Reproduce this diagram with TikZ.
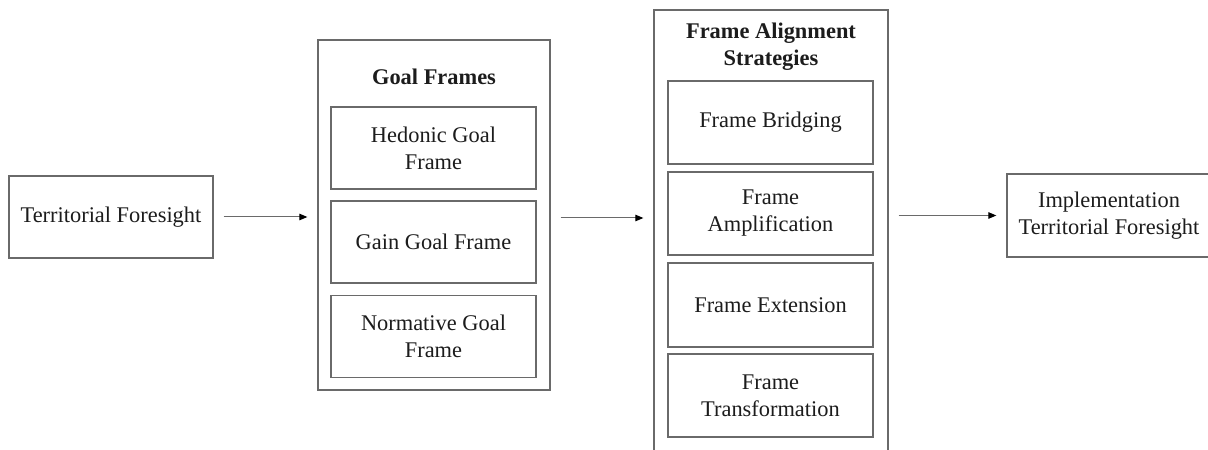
\documentclass[tikz,border=0pt]{standalone}
\usepackage{fontspec}
\setmainfont{Liberation Serif}
\usetikzlibrary{arrows.meta}
\definecolor{edge}{HTML}{6A6A6A}
\definecolor{ink}{HTML}{1C1C1C}
\tikzset{
  box/.style={draw=edge, line width=1.3bp, text=ink, align=center, inner sep=0pt,
    font=\fontsize{22.4bp}{27bp}\selectfont},
  inbox/.style={box, minimum width=205bp, minimum height=82bp},
  outbox/.style={draw=edge, line width=1.3bp, inner sep=0pt},
  title/.style={text=ink, align=center, inner sep=0pt,
    font=\fontsize{22.4bp}{27bp}\selectfont\bfseries},
  flow/.style={draw=edge, line width=1bp, -{Triangle[length=8bp,width=6.5bp,fill=black,color=black]},
    shorten <=10bp, shorten >=10bp}
}
\begin{document}
\begin{tikzpicture}[x=1bp,y=-1bp]
\useasboundingbox (0,0) rectangle (1208,450);
\clip (0,0) rectangle (1208,450);
\fill[white] (0,0) rectangle (1208,450);
% left input
\node[box, minimum width=204bp, minimum height=82bp] (tf) at (111,217) {Territorial Foresight};
% goal frames
\node[outbox, minimum width=232bp, minimum height=350bp] (gf) at (434,215) {};
\node[title] (gft) at (434,77) {Goal Frames};
\node[inbox] (hed) at (433.5,148) {Hedonic Goal\\Frame};
\node[inbox] (gain) at (433.5,242) {Gain Goal Frame};
\node[inbox] (norm) at (433.5,336.5) {Normative Goal\\Frame};
% frame alignment strategies
\node[outbox, minimum width=234bp, minimum height=470bp] (fas) at (771,245) {};
\node[title] (fast) at (771,46.5) {Frame Alignment\\Strategies};
\node[inbox, minimum height=83bp] (brid) at (770.5,122.5) {Frame Bridging};
\node[inbox, minimum height=83bp] (ampl) at (770.5,213.5) {Frame\\Amplification};
\node[inbox, minimum height=84bp] (ext) at (770.5,305) {Frame Extension};
\node[inbox, minimum height=83bp] (trans) at (770.5,395.5) {Frame\\Transformation};
% output
\node[box, minimum width=204bp, minimum height=83bp] (impl) at (1109,215.5) {Implementation\\Territorial Foresight};
% connectors
\draw[flow] (tf.east) -- (tf.east -| gf.west);
\draw[flow] ([yshift=-3bp]gf.east) -- ([yshift=-3bp]gf.east -| fas.west);
\draw[flow] (fas.east |- impl.west) -- (impl.west);
\end{tikzpicture}
\end{document}
